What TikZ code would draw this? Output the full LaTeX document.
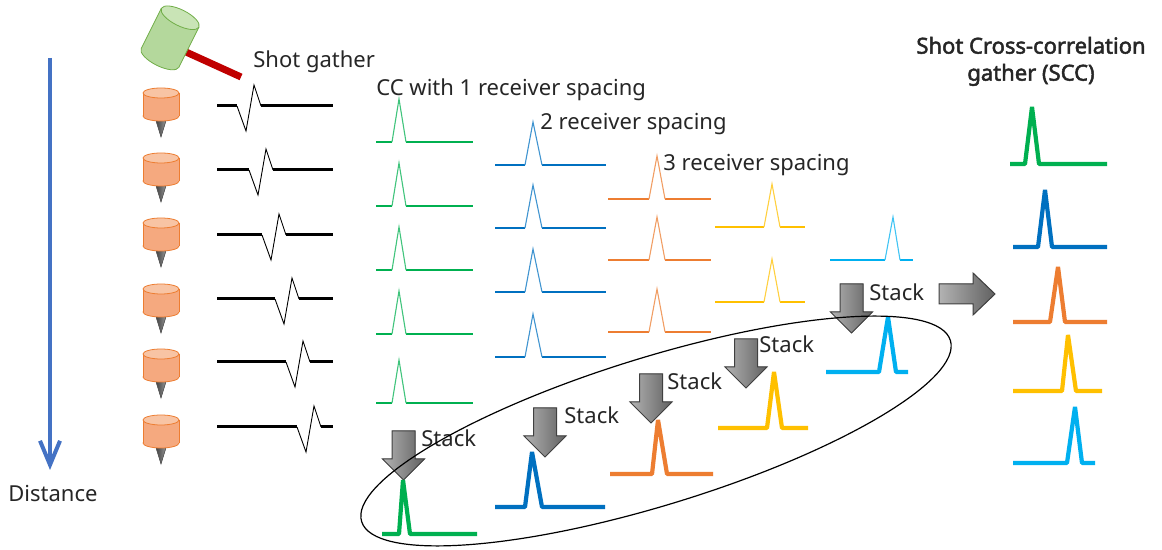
\documentclass[tikz,border=0pt]{standalone}
\usepackage{fontspec}
\setmainfont{Noto Sans}[AutoFakeBold=2.2]
\usetikzlibrary{arrows.meta,positioning,calc}
\definecolor{ink}{HTML}{262626}
\definecolor{ccgreen}{HTML}{00B050}
\definecolor{ccblue}{HTML}{0070C0}
\definecolor{ccorange}{HTML}{ED7D31}
\definecolor{ccyellow}{HTML}{FFC000}
\definecolor{cccyan}{HTML}{00B0F0}
\definecolor{axisblue}{HTML}{4472C4}
\definecolor{geotopc}{HTML}{F8C4A4}
\definecolor{geobody}{HTML}{F5A97F}
\definecolor{geoedge}{HTML}{ED7D31}
\definecolor{headgreen}{HTML}{B4D89C}
\definecolor{headtop}{HTML}{C9E4B6}
\definecolor{headedge}{HTML}{70AD47}
\definecolor{handlered}{HTML}{C00000}
\tikzset{lbl/.style={font=\fontsize{11}{13.5}\selectfont,text=ink,inner sep=0pt,anchor=base west},
  ccbase/.style={line width=1.4pt},
  ccpeak/.style={line width=0.55pt},
  stackln/.style={line width=2.1pt,line join=bevel},
  shotln/.style={line width=1.5pt,black},
  wiggle/.style={line width=0.45pt,black},
  blockarrow/.style={draw=black!75,line width=0.5pt,left color=black!30,right color=black!62},
  spike/.style={draw=black!65,line width=0.3pt,left color=black!80,right color=black!35},
  geoline/.style={draw=geoedge,line width=0.4pt},
  distarrow/.style={axisblue,line width=2pt,-{Straight Barb[length=12pt,width=10pt]}},
  ringline/.style={black,line width=0.6pt}}

% thin cross-correlation: colour, left, foot, apex, foot, right, baseline
\newcommand{\cctrace}[7]{%
  \draw[ccbase,#1] (#2,#7) -- (#3,#7) (#5,#7) -- (#6,#7);
  \draw[ccpeak,#1!75] (#3,#7) -- (#4,#7-43) -- (#5,#7);}
% stacked trace: colour, left, foot, apex, foot, right, baseline, height
\newcommand{\sttrace}[8]{%
  \draw[stackln,#1] (#2,#7) -- (#3,#7) -- (#4,#7-#8) -- (#5,#7) -- (#6,#7);}
% shot record: wiggle start, baseline
\newcommand{\shottrace}[2]{%
  \draw[shotln] (217,#2) -- (#1,#2) (#1+24,#2) -- (333,#2);
  \draw[wiggle] (#1,#2) -- (#1+9,#2+25) -- (#1+17,#2-21) -- (#1+24,#2);}
% geophone: centre of top face
\newcommand{\geophone}[2]{%
  \filldraw[spike] (#1-7,#2+21) -- (#1+7,#2+21) -- (#1,#2+44) -- cycle;
  \filldraw[geoline,fill=geobody] (#1,#2+23) ellipse (18 and 5);
  \fill[geobody] (#1-18,#2) rectangle (#1+18,#2+23);
  \draw[geoline] (#1-18,#2) -- (#1-18,#2+23) (#1+18,#2) -- (#1+18,#2+23);
  \filldraw[geoline,fill=geotopc] (#1,#2) ellipse (18 and 5);}
% downward stack arrow: centre, tip
\newcommand{\stackarrow}[2]{%
  \filldraw[blockarrow] (#1-11.5,#2-49) -- (#1+11.5,#2-49) -- (#1+11.5,#2-21)
    -- (#1+21,#2-21) -- (#1,#2) -- (#1-21,#2-21) -- (#1-11.5,#2-21) -- cycle;}

\begin{document}
\begin{tikzpicture}[x=0.5pt,y=-0.5pt]
\fill[white] (0,0) rectangle (1162,550);
\useasboundingbox (0,0) rectangle (1162,550);

% distance axis
\coordinate (dtop) at (50,58);
\coordinate (dtip) at (50,470);
\draw[distarrow] (dtop) -- (dtip);
\node[lbl,anchor=base] (dist) at (53,502) {Distance};

% hammer
\draw[handlered,line width=3.5pt] (175,47) -- (241,77);
\begin{scope}[shift={(160,58)},rotate=-26.6]
  \filldraw[draw=headedge,line width=0.4pt,fill=headgreen] (0,0) ellipse (21 and 8);
  \fill[headgreen] (-21,-45) rectangle (21,0);
  \draw[draw=headedge,line width=0.4pt] (-21,-45) -- (-21,0) (21,-45) -- (21,0);
  \filldraw[draw=headedge,line width=0.4pt,fill=headtop] (0,-45) ellipse (21 and 8);
\end{scope}
\node[lbl] (shot) at (253,68) {Shot gather};

% receivers and shot gather
\geophone{161}{93}   \shottrace{237}{106}
\geophone{161}{158}  \shottrace{249}{170}
\geophone{161}{223}  \shottrace{262}{235}
\geophone{161}{289}  \shottrace{275}{299}
\geophone{161}{354}  \shottrace{286}{362}
\geophone{161}{420}  \shottrace{297}{427}

% cross-correlations by receiver spacing
\node[lbl] (cc1) at (376,96) {CC with 1 receiver spacing};
\node[lbl] (cc2) at (540,130) {2 receiver spacing};
\node[lbl] (cc3) at (663,171) {3 receiver spacing};
\cctrace{ccgreen}{376}{392}{399}{406}{473}{142}
\cctrace{ccgreen}{376}{392}{399}{406}{473}{206}
\cctrace{ccgreen}{376}{392}{399}{406}{473}{270}
\cctrace{ccgreen}{376}{392}{399}{406}{473}{334}
\cctrace{ccgreen}{376}{392}{399}{406}{473}{403}
\cctrace{ccblue}{495}{525}{533}{542}{606}{165}
\cctrace{ccblue}{495}{525}{533}{542}{606}{228}
\cctrace{ccblue}{495}{525}{533}{542}{606}{292}
\cctrace{ccblue}{495}{525}{533}{542}{606}{357}
\cctrace{ccorange}{608}{649}{657}{665}{711}{199}
\cctrace{ccorange}{608}{649}{657}{665}{711}{260}
\cctrace{ccorange}{608}{649}{657}{665}{711}{332}
\cctrace{ccyellow}{715}{764}{772}{780}{805}{227}
\cctrace{ccyellow}{715}{764}{772}{780}{805}{302}
\cctrace{cccyan}{830}{885}{893}{900}{913}{260}

% stacking
\stackarrow{403.5}{480} \node[lbl] (stk1) at (421,447) {Stack};
\stackarrow{545}{457}   \node[lbl] (stk2) at (564,424) {Stack};
\stackarrow{651}{423}   \node[lbl] (stk3) at (667,390) {Stack};
\stackarrow{746}{388}   \node[lbl] (stk4) at (759,353) {Stack};
\stackarrow{851.5}{333} \node[lbl] (stk5) at (869,301) {Stack};
\sttrace{ccgreen}{382}{399}{403}{410}{477}{534}{54}
\sttrace{ccblue}{495}{525}{532}{542}{605}{507}{55}
\sttrace{ccorange}{610}{652}{658}{667}{713}{474}{54}
\sttrace{ccyellow}{718}{767}{774}{782}{808}{428}{56}
\sttrace{cccyan}{826}{879}{888}{896}{908}{372}{55}
\draw[ringline,rotate around={17.1:(656,431)}] (656,431) ellipse (308 and 74);

% shot cross-correlation gather
\filldraw[blockarrow] (939,284) -- (973,284) -- (973,273) -- (995,294)
  -- (973,315) -- (973,304) -- (939,304) -- cycle;
\node[lbl,font=\fontsize{11}{13.5}\selectfont\bfseries,align=center,anchor=north]
  (scc) at (1031,36.5) {Shot Cross-correlation\\gather (SCC)};
\sttrace{ccgreen}{1010}{1025}{1032}{1039}{1107}{164}{57}
\sttrace{ccblue}{1013}{1038}{1045}{1052}{1107}{247}{57}
\sttrace{ccorange}{1013}{1050}{1058}{1065}{1107}{322}{55}
\sttrace{ccyellow}{1013}{1062}{1068}{1076}{1102}{391}{56}
\sttrace{cccyan}{1013}{1067}{1075}{1082}{1095}{463}{56}
\end{tikzpicture}
\end{document}
